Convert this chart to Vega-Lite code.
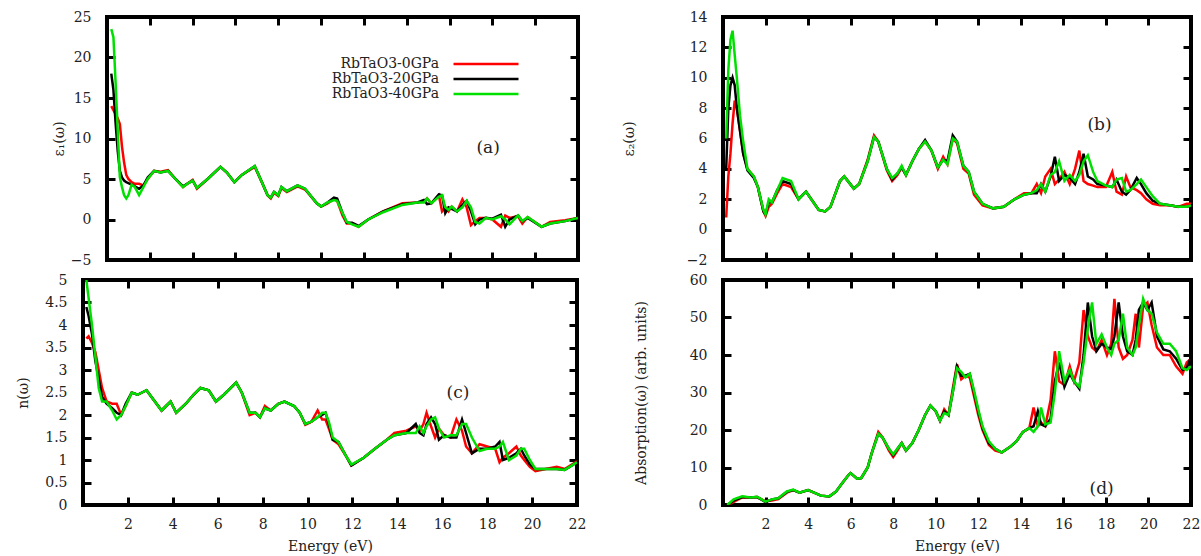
{
  "$schema": "https://vega.github.io/schema/vega-lite/v6.json",
  "background": "white",
  "autosize": {"type": "pad"},
  "padding": {"left": 14, "top": 8, "right": 5, "bottom": 5},
  "config": {
    "view": {"stroke": "#000000", "strokeWidth": 4},
    "axis": {"labelFont": "DejaVu Serif", "labelFontSize": 14, "labelColor": "#222222", "titleFont": "DejaVu Serif", "titleFontSize": 14, "titleFontWeight": "normal", "titleColor": "#222222", "grid": false, "domain": false, "tickColor": "#000000", "tickWidth": 3, "labelFlush": false, "labelOverlap": false},
    "legend": {"labelFont": "DejaVu Serif", "labelFontSize": 14, "labelColor": "#222222"},
    "text": {"font": "DejaVu Serif", "fontSize": 17, "color": "#222222"}
  },
  "datasets": {
    "a": [
      {"E":0.2,"p0":14.0,"p20":18.0,"p40":23.5},
      {"E":0.3,"p0":13.5,"p20":16.0,"p40":22.5},
      {"E":0.4,"p0":13.0,"p20":12.0,"p40":17.0},
      {"E":0.5,"p0":12.5,"p20":8.5,"p40":11.0},
      {"E":0.6,"p0":11.8,"p20":6.0,"p40":5.2},
      {"E":0.7,"p0":9.0,"p20":5.2,"p40":4.0},
      {"E":0.8,"p0":7.0,"p20":4.8,"p40":3.0},
      {"E":0.9,"p0":5.5,"p20":4.6,"p40":2.6},
      {"E":1.0,"p0":5.0,"p20":4.5,"p40":3.0},
      {"E":1.15,"p0":4.6,"p20":4.3,"p40":4.3},
      {"E":1.3,"p0":4.4,"p20":4.1,"p40":4.0},
      {"E":1.5,"p0":4.4,"p20":3.8,"p40":3.0},
      {"E":1.7,"p0":4.2,"p20":4.2,"p40":4.0},
      {"E":1.9,"p0":5.0,"p20":5.2,"p40":5.0},
      {"E":2.2,"p0":6.0,"p20":6.0,"p40":6.0},
      {"E":2.5,"p0":5.9,"p20":5.8,"p40":5.8},
      {"E":2.85,"p0":6.1,"p20":6.0,"p40":6.0},
      {"E":3.2,"p0":5.0,"p20":5.0,"p40":5.0},
      {"E":3.55,"p0":4.0,"p20":4.1,"p40":4.0},
      {"E":3.8,"p0":4.5,"p20":4.5,"p40":4.5},
      {"E":4.0,"p0":4.9,"p20":4.8,"p40":4.8},
      {"E":4.2,"p0":3.8,"p20":3.9,"p40":3.9},
      {"E":4.7,"p0":5.0,"p20":5.0,"p40":5.0},
      {"E":5.3,"p0":6.5,"p20":6.5,"p40":6.5},
      {"E":5.6,"p0":5.8,"p20":5.8,"p40":5.8},
      {"E":5.95,"p0":4.6,"p20":4.6,"p40":4.6},
      {"E":6.3,"p0":5.5,"p20":5.5,"p40":5.5},
      {"E":6.9,"p0":6.5,"p20":6.6,"p40":6.6},
      {"E":7.2,"p0":4.8,"p20":4.8,"p40":4.8},
      {"E":7.5,"p0":3.0,"p20":3.0,"p40":3.0},
      {"E":7.65,"p0":2.6,"p20":2.7,"p40":2.7},
      {"E":7.8,"p0":3.3,"p20":3.4,"p40":3.4},
      {"E":8.0,"p0":2.9,"p20":3.0,"p40":3.0},
      {"E":8.15,"p0":3.9,"p20":4.0,"p40":4.0},
      {"E":8.4,"p0":3.4,"p20":3.5,"p40":3.5},
      {"E":8.9,"p0":4.1,"p20":4.2,"p40":4.2},
      {"E":9.25,"p0":3.7,"p20":3.8,"p40":3.8},
      {"E":9.8,"p0":2.0,"p20":2.0,"p40":2.0},
      {"E":10.0,"p0":1.6,"p20":1.6,"p40":1.6},
      {"E":10.3,"p0":2.0,"p20":2.1,"p40":2.1},
      {"E":10.6,"p0":2.5,"p20":2.7,"p40":2.4},
      {"E":10.75,"p0":2.3,"p20":2.6,"p40":2.3},
      {"E":11.0,"p0":0.5,"p20":0.8,"p40":0.8},
      {"E":11.2,"p0":-0.5,"p20":-0.4,"p40":-0.3},
      {"E":11.45,"p0":-0.5,"p20":-0.4,"p40":-0.6},
      {"E":11.75,"p0":-0.9,"p20":-0.8,"p40":-0.9},
      {"E":12.2,"p0":0.0,"p20":0.0,"p40":0.0},
      {"E":12.9,"p0":1.0,"p20":1.0,"p40":0.9},
      {"E":13.8,"p0":2.0,"p20":1.9,"p40":1.8},
      {"E":14.5,"p0":2.1,"p20":2.1,"p40":2.1},
      {"E":14.8,"p0":2.2,"p20":2.4,"p40":2.1},
      {"E":14.95,"p0":2.6,"p20":1.9,"p40":2.6},
      {"E":15.15,"p0":2.0,"p20":2.0,"p40":2.0},
      {"E":15.5,"p0":3.0,"p20":3.1,"p40":2.8},
      {"E":15.65,"p0":1.0,"p20":3.0,"p40":3.0},
      {"E":15.8,"p0":1.5,"p20":0.8,"p40":1.5},
      {"E":15.95,"p0":1.0,"p20":1.5,"p40":1.2},
      {"E":16.1,"p0":1.6,"p20":1.3,"p40":1.6},
      {"E":16.35,"p0":1.0,"p20":1.0,"p40":1.0},
      {"E":16.6,"p0":2.5,"p20":1.8,"p40":1.5},
      {"E":16.8,"p0":1.5,"p20":2.3,"p40":2.3},
      {"E":17.0,"p0":-0.7,"p20":1.0,"p40":1.5},
      {"E":17.2,"p0":-0.2,"p20":-0.6,"p40":-0.3},
      {"E":17.4,"p0":0.2,"p20":0.0,"p40":-0.5},
      {"E":17.7,"p0":0.2,"p20":0.2,"p40":0.2},
      {"E":18.0,"p0":0.0,"p20":0.1,"p40":0.0},
      {"E":18.4,"p0":-0.9,"p20":0.6,"p40":0.4},
      {"E":18.6,"p0":0.5,"p20":-0.9,"p40":0.0},
      {"E":18.8,"p0":0.2,"p20":0.0,"p40":-0.6},
      {"E":19.2,"p0":0.4,"p20":0.5,"p40":0.5},
      {"E":19.4,"p0":-0.5,"p20":-0.2,"p40":-0.2},
      {"E":19.65,"p0":0.3,"p20":0.2,"p40":0.3},
      {"E":20.3,"p0":-0.9,"p20":-0.9,"p40":-0.9},
      {"E":20.7,"p0":-0.3,"p20":-0.5,"p40":-0.5},
      {"E":21.4,"p0":-0.1,"p20":-0.2,"p40":-0.2},
      {"E":22.0,"p0":0.2,"p20":0.2,"p40":0.2}
    ],
    "b": [
      {"E":0.15,"p0":0.8,"p20":4.0,"p40":6.0},
      {"E":0.25,"p0":3.5,"p20":8.0,"p40":10.5},
      {"E":0.35,"p0":5.0,"p20":9.5,"p40":12.5},
      {"E":0.45,"p0":7.0,"p20":10.0,"p40":13.1},
      {"E":0.55,"p0":8.5,"p20":9.5,"p40":11.5},
      {"E":0.65,"p0":8.0,"p20":8.0,"p40":10.0},
      {"E":0.8,"p0":6.5,"p20":6.5,"p40":7.5},
      {"E":0.95,"p0":5.0,"p20":5.0,"p40":5.8},
      {"E":1.15,"p0":4.0,"p20":3.9,"p40":4.0},
      {"E":1.45,"p0":3.5,"p20":3.4,"p40":3.5},
      {"E":1.64,"p0":2.8,"p20":2.8,"p40":2.8},
      {"E":1.9,"p0":1.2,"p20":1.2,"p40":1.3},
      {"E":2.0,"p0":0.9,"p20":1.0,"p40":1.0},
      {"E":2.15,"p0":1.5,"p20":1.8,"p40":2.0},
      {"E":2.3,"p0":1.7,"p20":1.8,"p40":1.8},
      {"E":2.55,"p0":2.4,"p20":2.6,"p40":2.6},
      {"E":2.8,"p0":3.0,"p20":3.2,"p40":3.4},
      {"E":3.2,"p0":2.8,"p20":3.0,"p40":3.2},
      {"E":3.55,"p0":2.0,"p20":2.0,"p40":2.0},
      {"E":3.9,"p0":2.5,"p20":2.5,"p40":2.5},
      {"E":4.2,"p0":1.9,"p20":1.9,"p40":1.9},
      {"E":4.5,"p0":1.3,"p20":1.3,"p40":1.3},
      {"E":4.8,"p0":1.2,"p20":1.2,"p40":1.2},
      {"E":5.05,"p0":1.5,"p20":1.5,"p40":1.5},
      {"E":5.5,"p0":3.2,"p20":3.2,"p40":3.2},
      {"E":5.7,"p0":3.5,"p20":3.5,"p40":3.5},
      {"E":6.15,"p0":2.7,"p20":2.7,"p40":2.7},
      {"E":6.4,"p0":3.0,"p20":3.0,"p40":3.0},
      {"E":6.8,"p0":4.6,"p20":4.5,"p40":4.5},
      {"E":7.1,"p0":6.2,"p20":6.1,"p40":6.1},
      {"E":7.3,"p0":5.8,"p20":5.8,"p40":5.8},
      {"E":7.7,"p0":3.9,"p20":4.0,"p40":4.0},
      {"E":7.95,"p0":3.2,"p20":3.3,"p40":3.4},
      {"E":8.2,"p0":3.6,"p20":3.7,"p40":3.7},
      {"E":8.4,"p0":4.1,"p20":4.1,"p40":4.2},
      {"E":8.6,"p0":3.6,"p20":3.6,"p40":3.6},
      {"E":8.9,"p0":4.5,"p20":4.5,"p40":4.5},
      {"E":9.2,"p0":5.3,"p20":5.3,"p40":5.3},
      {"E":9.5,"p0":5.8,"p20":5.9,"p40":5.8},
      {"E":9.8,"p0":5.2,"p20":5.2,"p40":5.2},
      {"E":10.1,"p0":4.0,"p20":4.1,"p40":4.1},
      {"E":10.35,"p0":4.8,"p20":4.6,"p40":4.6},
      {"E":10.55,"p0":4.3,"p20":4.5,"p40":4.3},
      {"E":10.8,"p0":6.0,"p20":6.2,"p40":6.0},
      {"E":11.0,"p0":5.7,"p20":5.8,"p40":5.8},
      {"E":11.3,"p0":4.0,"p20":4.2,"p40":4.2},
      {"E":11.55,"p0":3.7,"p20":3.8,"p40":3.8},
      {"E":11.8,"p0":2.3,"p20":2.5,"p40":2.5},
      {"E":12.2,"p0":1.6,"p20":1.7,"p40":1.7},
      {"E":12.7,"p0":1.4,"p20":1.4,"p40":1.4},
      {"E":13.2,"p0":1.5,"p20":1.5,"p40":1.5},
      {"E":13.7,"p0":2.0,"p20":2.0,"p40":2.0},
      {"E":14.15,"p0":2.4,"p20":2.3,"p40":2.3},
      {"E":14.5,"p0":2.4,"p20":2.4,"p40":2.4},
      {"E":14.75,"p0":3.0,"p20":2.4,"p40":2.6},
      {"E":14.95,"p0":2.4,"p20":3.0,"p40":3.0},
      {"E":15.15,"p0":3.5,"p20":2.5,"p40":2.5},
      {"E":15.4,"p0":4.0,"p20":3.5,"p40":3.6},
      {"E":15.6,"p0":3.0,"p20":4.8,"p40":3.8},
      {"E":15.8,"p0":3.3,"p20":3.2,"p40":4.5},
      {"E":16.05,"p0":3.8,"p20":3.6,"p40":3.2},
      {"E":16.3,"p0":3.0,"p20":3.4,"p40":3.6},
      {"E":16.55,"p0":4.0,"p20":3.0,"p40":3.2},
      {"E":16.75,"p0":5.2,"p20":3.8,"p40":3.6},
      {"E":16.95,"p0":3.2,"p20":5.0,"p40":4.5},
      {"E":17.15,"p0":3.0,"p20":3.5,"p40":4.9},
      {"E":17.4,"p0":2.9,"p20":3.3,"p40":3.8},
      {"E":17.6,"p0":2.8,"p20":3.0,"p40":3.2},
      {"E":18.0,"p0":2.8,"p20":2.9,"p40":2.9},
      {"E":18.3,"p0":3.8,"p20":2.8,"p40":2.8},
      {"E":18.5,"p0":2.5,"p20":3.3,"p40":3.3},
      {"E":18.75,"p0":2.3,"p20":2.5,"p40":3.4},
      {"E":18.95,"p0":3.5,"p20":2.3,"p40":2.5},
      {"E":19.15,"p0":2.8,"p20":2.6,"p40":2.6},
      {"E":19.45,"p0":2.6,"p20":3.4,"p40":3.0},
      {"E":19.65,"p0":2.4,"p20":3.0,"p40":3.3},
      {"E":19.9,"p0":2.0,"p20":2.4,"p40":2.8},
      {"E":20.2,"p0":1.7,"p20":1.9,"p40":2.2},
      {"E":20.55,"p0":1.6,"p20":1.7,"p40":1.7},
      {"E":21.0,"p0":1.6,"p20":1.6,"p40":1.6},
      {"E":21.4,"p0":1.5,"p20":1.5,"p40":1.5},
      {"E":21.8,"p0":1.7,"p20":1.5,"p40":1.5},
      {"E":22.0,"p0":1.7,"p20":1.6,"p40":1.6}
    ],
    "c": [
      {"E":0.15,"p0":3.7,"p20":4.4,"p40":5.0},
      {"E":0.25,"p0":3.75,"p20":4.2,"p40":4.6},
      {"E":0.4,"p0":3.6,"p20":3.8,"p40":4.0},
      {"E":0.55,"p0":3.4,"p20":3.2,"p40":3.3},
      {"E":0.7,"p0":3.0,"p20":2.8,"p40":2.6},
      {"E":0.85,"p0":2.6,"p20":2.4,"p40":2.3},
      {"E":1.05,"p0":2.3,"p20":2.25,"p40":2.3},
      {"E":1.3,"p0":2.25,"p20":2.15,"p40":2.1},
      {"E":1.5,"p0":2.25,"p20":2.05,"p40":1.9},
      {"E":1.7,"p0":2.0,"p20":2.0,"p40":2.0},
      {"E":1.9,"p0":2.2,"p20":2.25,"p40":2.2},
      {"E":2.17,"p0":2.5,"p20":2.5,"p40":2.5},
      {"E":2.43,"p0":2.45,"p20":2.45,"p40":2.45},
      {"E":2.83,"p0":2.55,"p20":2.55,"p40":2.55},
      {"E":3.2,"p0":2.3,"p20":2.3,"p40":2.3},
      {"E":3.5,"p0":2.1,"p20":2.1,"p40":2.1},
      {"E":3.7,"p0":2.2,"p20":2.2,"p40":2.2},
      {"E":3.9,"p0":2.3,"p20":2.3,"p40":2.3},
      {"E":4.15,"p0":2.05,"p20":2.05,"p40":2.05},
      {"E":4.58,"p0":2.25,"p20":2.25,"p40":2.25},
      {"E":4.92,"p0":2.45,"p20":2.45,"p40":2.45},
      {"E":5.23,"p0":2.6,"p20":2.6,"p40":2.6},
      {"E":5.6,"p0":2.55,"p20":2.55,"p40":2.55},
      {"E":5.92,"p0":2.3,"p20":2.3,"p40":2.3},
      {"E":6.27,"p0":2.45,"p20":2.45,"p40":2.45},
      {"E":6.82,"p0":2.72,"p20":2.72,"p40":2.72},
      {"E":7.07,"p0":2.5,"p20":2.5,"p40":2.5},
      {"E":7.42,"p0":2.0,"p20":2.05,"p40":2.05},
      {"E":7.68,"p0":2.05,"p20":2.05,"p40":2.05},
      {"E":7.88,"p0":1.95,"p20":1.95,"p40":1.95},
      {"E":8.1,"p0":2.2,"p20":2.15,"p40":2.15},
      {"E":8.36,"p0":2.1,"p20":2.1,"p40":2.1},
      {"E":8.7,"p0":2.25,"p20":2.25,"p40":2.25},
      {"E":8.97,"p0":2.3,"p20":2.3,"p40":2.3},
      {"E":9.4,"p0":2.2,"p20":2.2,"p40":2.2},
      {"E":9.65,"p0":2.05,"p20":2.05,"p40":2.05},
      {"E":9.9,"p0":1.78,"p20":1.8,"p40":1.8},
      {"E":10.17,"p0":1.85,"p20":1.85,"p40":1.85},
      {"E":10.45,"p0":2.1,"p20":1.95,"p40":1.95},
      {"E":10.65,"p0":1.9,"p20":2.0,"p40":2.05},
      {"E":10.8,"p0":1.9,"p20":2.05,"p40":2.05},
      {"E":10.95,"p0":1.7,"p20":1.8,"p40":1.85},
      {"E":11.12,"p0":1.45,"p20":1.45,"p40":1.5},
      {"E":11.38,"p0":1.35,"p20":1.4,"p40":1.4},
      {"E":11.7,"p0":1.1,"p20":1.1,"p40":1.1},
      {"E":11.95,"p0":0.88,"p20":0.88,"p40":0.9},
      {"E":12.5,"p0":1.05,"p20":1.05,"p40":1.05},
      {"E":13.0,"p0":1.25,"p20":1.25,"p40":1.25},
      {"E":13.53,"p0":1.45,"p20":1.45,"p40":1.45},
      {"E":13.87,"p0":1.6,"p20":1.55,"p40":1.55},
      {"E":14.4,"p0":1.65,"p20":1.6,"p40":1.6},
      {"E":14.82,"p0":1.75,"p20":1.8,"p40":1.6},
      {"E":14.99,"p0":1.65,"p20":1.6,"p40":1.75},
      {"E":15.16,"p0":1.8,"p20":1.55,"p40":1.6},
      {"E":15.3,"p0":2.05,"p20":1.8,"p40":1.75},
      {"E":15.5,"p0":1.75,"p20":1.95,"p40":1.9},
      {"E":15.68,"p0":1.5,"p20":1.8,"p40":1.95},
      {"E":15.85,"p0":1.7,"p20":1.45,"p40":1.7},
      {"E":16.08,"p0":1.55,"p20":1.55,"p40":1.5},
      {"E":16.37,"p0":1.5,"p20":1.5,"p40":1.55},
      {"E":16.63,"p0":1.9,"p20":1.5,"p40":1.55},
      {"E":16.88,"p0":1.65,"p20":1.9,"p40":1.8},
      {"E":17.06,"p0":1.3,"p20":1.6,"p40":1.8},
      {"E":17.32,"p0":1.15,"p20":1.15,"p40":1.5},
      {"E":17.66,"p0":1.35,"p20":1.25,"p40":1.2},
      {"E":18.0,"p0":1.3,"p20":1.25,"p40":1.25},
      {"E":18.36,"p0":1.25,"p20":1.3,"p40":1.25},
      {"E":18.55,"p0":0.95,"p20":1.4,"p40":1.3},
      {"E":18.7,"p0":1.05,"p20":1.0,"p40":1.4},
      {"E":18.97,"p0":1.15,"p20":1.05,"p40":1.0},
      {"E":19.3,"p0":1.3,"p20":1.15,"p40":1.1},
      {"E":19.5,"p0":1.1,"p20":1.25,"p40":1.25},
      {"E":19.65,"p0":1.0,"p20":1.1,"p40":1.25},
      {"E":19.9,"p0":0.85,"p20":0.9,"p40":1.0},
      {"E":20.15,"p0":0.75,"p20":0.8,"p40":0.8},
      {"E":20.6,"p0":0.8,"p20":0.8,"p40":0.8},
      {"E":21.1,"p0":0.85,"p20":0.8,"p40":0.8},
      {"E":21.45,"p0":0.8,"p20":0.78,"p40":0.78},
      {"E":22.0,"p0":0.97,"p20":0.95,"p40":0.95}
    ],
    "d": [
      {"E":0.2,"p0":0.0,"p20":0.0,"p40":0.0},
      {"E":0.5,"p0":0.8,"p20":1.2,"p40":1.5},
      {"E":0.9,"p0":2.0,"p20":2.1,"p40":2.3},
      {"E":1.3,"p0":2.0,"p20":2.0,"p40":2.0},
      {"E":1.6,"p0":2.1,"p20":2.1,"p40":2.2},
      {"E":2.0,"p0":1.0,"p20":0.8,"p40":0.9},
      {"E":2.3,"p0":1.2,"p20":1.5,"p40":1.5},
      {"E":2.6,"p0":1.6,"p20":1.8,"p40":1.8},
      {"E":3.0,"p0":3.3,"p20":3.5,"p40":3.6},
      {"E":3.3,"p0":4.0,"p20":4.0,"p40":4.1},
      {"E":3.6,"p0":3.3,"p20":3.3,"p40":3.3},
      {"E":4.0,"p0":4.0,"p20":4.0,"p40":4.0},
      {"E":4.2,"p0":3.5,"p20":3.5,"p40":3.5},
      {"E":4.6,"p0":2.5,"p20":2.5,"p40":2.5},
      {"E":5.0,"p0":2.3,"p20":2.3,"p40":2.3},
      {"E":5.3,"p0":3.5,"p20":3.5,"p40":3.5},
      {"E":5.6,"p0":5.8,"p20":5.8,"p40":5.8},
      {"E":5.9,"p0":8.0,"p20":8.0,"p40":8.0},
      {"E":6.0,"p0":8.5,"p20":8.5,"p40":8.5},
      {"E":6.3,"p0":7.0,"p20":7.0,"p40":7.0},
      {"E":6.5,"p0":7.2,"p20":7.2,"p40":7.2},
      {"E":6.8,"p0":10.0,"p20":10.0,"p40":10.0},
      {"E":7.0,"p0":14.0,"p20":14.0,"p40":14.0},
      {"E":7.3,"p0":19.5,"p20":19.0,"p40":19.0},
      {"E":7.5,"p0":18.0,"p20":18.0,"p40":18.0},
      {"E":7.8,"p0":14.5,"p20":15.0,"p40":15.0},
      {"E":8.0,"p0":12.8,"p20":13.3,"p40":13.5},
      {"E":8.2,"p0":14.5,"p20":15.0,"p40":15.0},
      {"E":8.4,"p0":16.5,"p20":16.5,"p40":16.5},
      {"E":8.6,"p0":14.5,"p20":14.5,"p40":14.5},
      {"E":8.9,"p0":16.5,"p20":16.5,"p40":16.5},
      {"E":9.2,"p0":20.0,"p20":20.0,"p40":20.0},
      {"E":9.5,"p0":24.0,"p20":24.0,"p40":24.0},
      {"E":9.75,"p0":26.5,"p20":26.5,"p40":26.5},
      {"E":10.0,"p0":25.0,"p20":25.0,"p40":25.0},
      {"E":10.2,"p0":22.5,"p20":22.5,"p40":22.5},
      {"E":10.4,"p0":25.5,"p20":25.0,"p40":24.5},
      {"E":10.6,"p0":24.0,"p20":24.0,"p40":24.0},
      {"E":10.8,"p0":31.0,"p20":30.0,"p40":30.0},
      {"E":11.0,"p0":37.5,"p20":37.0,"p40":36.5},
      {"E":11.2,"p0":33.5,"p20":34.5,"p40":35.5},
      {"E":11.4,"p0":34.5,"p20":34.5,"p40":34.0},
      {"E":11.6,"p0":34.0,"p20":35.0,"p40":35.0},
      {"E":11.8,"p0":29.0,"p20":30.0,"p40":30.5},
      {"E":12.0,"p0":24.0,"p20":25.0,"p40":25.5},
      {"E":12.2,"p0":20.0,"p20":20.5,"p40":21.0},
      {"E":12.5,"p0":16.0,"p20":16.5,"p40":17.0},
      {"E":12.8,"p0":14.5,"p20":15.0,"p40":15.0},
      {"E":13.1,"p0":14.0,"p20":14.0,"p40":14.0},
      {"E":13.5,"p0":15.5,"p20":15.5,"p40":15.5},
      {"E":13.8,"p0":17.0,"p20":17.0,"p40":17.0},
      {"E":14.1,"p0":19.5,"p20":19.5,"p40":19.5},
      {"E":14.4,"p0":20.5,"p20":20.5,"p40":20.5},
      {"E":14.6,"p0":26.0,"p20":21.0,"p40":19.5},
      {"E":14.8,"p0":21.0,"p20":25.0,"p40":21.0},
      {"E":14.95,"p0":22.0,"p20":21.5,"p40":26.0},
      {"E":15.15,"p0":21.0,"p20":21.0,"p40":21.5},
      {"E":15.4,"p0":28.0,"p20":23.0,"p40":22.0},
      {"E":15.6,"p0":41.0,"p20":33.0,"p40":30.0},
      {"E":15.8,"p0":33.0,"p20":38.0,"p40":41.0},
      {"E":16.05,"p0":32.0,"p20":31.5,"p40":33.0},
      {"E":16.3,"p0":37.0,"p20":35.0,"p40":36.0},
      {"E":16.5,"p0":33.0,"p20":33.0,"p40":33.0},
      {"E":16.75,"p0":38.0,"p20":31.0,"p40":31.5},
      {"E":16.95,"p0":52.0,"p20":40.0,"p40":38.0},
      {"E":17.15,"p0":45.0,"p20":54.0,"p40":47.0},
      {"E":17.35,"p0":42.0,"p20":45.0,"p40":54.0},
      {"E":17.55,"p0":41.0,"p20":41.0,"p40":43.0},
      {"E":17.8,"p0":44.0,"p20":43.0,"p40":45.5},
      {"E":18.05,"p0":40.0,"p20":42.0,"p40":42.0},
      {"E":18.25,"p0":43.0,"p20":41.5,"p40":40.0},
      {"E":18.4,"p0":55.0,"p20":45.0,"p40":43.0},
      {"E":18.6,"p0":42.0,"p20":54.0,"p40":44.0},
      {"E":18.8,"p0":39.0,"p20":45.0,"p40":51.0},
      {"E":19.0,"p0":40.0,"p20":41.0,"p40":42.0},
      {"E":19.25,"p0":44.0,"p20":40.0,"p40":40.0},
      {"E":19.4,"p0":51.0,"p20":44.0,"p40":42.0},
      {"E":19.55,"p0":42.0,"p20":52.0,"p40":48.0},
      {"E":19.75,"p0":53.0,"p20":54.0,"p40":55.0},
      {"E":19.95,"p0":54.0,"p20":52.0,"p40":52.0},
      {"E":20.15,"p0":48.0,"p20":54.0,"p40":51.0},
      {"E":20.4,"p0":42.0,"p20":45.0,"p40":46.0},
      {"E":20.7,"p0":40.0,"p20":41.5,"p40":43.0},
      {"E":21.0,"p0":40.0,"p20":41.0,"p40":43.0},
      {"E":21.3,"p0":37.0,"p20":39.0,"p40":41.0},
      {"E":21.6,"p0":35.0,"p20":36.0,"p40":36.5},
      {"E":21.8,"p0":38.0,"p20":36.5,"p40":36.0},
      {"E":22.0,"p0":39.0,"p20":39.5,"p40":37.0}
    ],
    "labels": [
      {"panel":"a","E":17.8,"v":8.8,"t":"(a)"},
      {"panel":"b","E":17.7,"v":6.9,"t":"(b)"},
      {"panel":"c","E":16.7,"v":2.48,"t":"(c)"},
      {"panel":"d","E":17.8,"v":4.4,"t":"(d)"}
    ]
  },
  "bounds": "flush",
  "spacing": 640,
  "hconcat": [
    {
      "bounds": "flush",
      "spacing": 263,
      "vconcat": [
        {
          "bounds": "flush",
          "spacing": 0,
          "hconcat": [
            {"width": 24, "height": 243, "data": {"values": []}, "mark": "point", "view": {"stroke": null}},
            {
              "width": 471, "height": 243,
              "layer": [
                {
                  "data": {"name": "a"},
                  "transform": [{"fold": ["p0", "p20", "p40"], "as": ["s", "v"]}],
                  "mark": {"type": "line", "strokeWidth": 2.5, "clip": true},
                  "encoding": {
                    "x": {"field": "E", "type": "quantitative", "scale": {"domain": [0, 22], "nice": false, "zero": false}, "axis": null},
                    "y": {"field": "v", "type": "quantitative", "scale": {"domain": [-5, 25], "nice": false, "zero": false}, "axis": {"orient": "left", "values": [-5, 0, 5, 10, 15, 20, 25], "ticks": false, "labelPadding": 16, "title": "ε₁(ω)", "titlePadding": 4}},
                    "color": {"field": "s", "type": "nominal", "scale": {"domain": ["p0", "p20", "p40"], "range": ["#ff0000", "#000000", "#00e000"]}, "legend": {"title": null, "orient": "none", "legendX": 395, "legendY": 39, "padding": 0, "symbolType": "M-5,0H5", "symbolSize": 169, "symbolStrokeWidth": 2.5, "rowPadding": 0, "labelAlign": "right", "labelOffset": -55, "labelExpr": "'RbTaO3-' + slice(datum.label, 1) + 'GPa'"}}
                  }
                },
                {
                  "data": {"name": "labels"},
                  "transform": [{"filter": "datum.panel == 'a'"}],
                  "mark": {"type": "text"},
                  "encoding": {
                    "x": {"field": "E", "type": "quantitative", "scale": {"domain": [0, 22], "nice": false, "zero": false}, "axis": {"orient": "bottom", "values": [2, 4, 6, 8, 10, 12, 14, 16, 18, 20], "labels": false, "tickSize": 8, "offset": -8, "title": null}},
                    "y": {"field": "v", "type": "quantitative", "scale": {"domain": [-5, 25], "nice": false, "zero": false}, "axis": {"orient": "left", "values": [0, 5, 10, 15, 20], "labels": false, "tickSize": 8, "offset": -8, "title": null}},
                    "text": {"field": "t"}
                  }
                },
                {
                  "data": {"values": []},
                  "mark": "point",
                  "encoding": {
                    "x": {"field": "E", "type": "quantitative", "scale": {"domain": [0, 22], "nice": false, "zero": false}, "axis": {"orient": "top", "values": [2, 4, 6, 8, 10, 12, 14, 16, 18, 20], "labels": false, "tickSize": 8, "offset": -8, "title": null}},
                    "y": {"field": "v", "type": "quantitative", "scale": {"domain": [-5, 25], "nice": false, "zero": false}, "axis": {"orient": "right", "values": [0, 5, 10, 15, 20], "labels": false, "tickSize": 8, "offset": -8, "title": null}}
                  }
                }
              ],
              "resolve": {"axis": {"x": "independent", "y": "independent"}}
            }
          ]
        },
        {
          "width": 494, "height": 225,
          "layer": [
            {
              "data": {"name": "c"},
              "transform": [{"fold": ["p0", "p20", "p40"], "as": ["s", "v"]}],
              "mark": {"type": "line", "strokeWidth": 2.5, "clip": true},
              "encoding": {
                "x": {"field": "E", "type": "quantitative", "scale": {"domain": [0, 22], "nice": false, "zero": false}, "axis": {"orient": "bottom", "values": [2, 4, 6, 8, 10, 12, 14, 16, 18, 20, 22], "ticks": false, "labelPadding": 12, "title": "Energy (eV)", "titlePadding": 8}},
                "y": {"field": "v", "type": "quantitative", "scale": {"domain": [0, 5], "nice": false, "zero": false}, "axis": {"orient": "left", "values": [0, 0.5, 1, 1.5, 2, 2.5, 3, 3.5, 4, 4.5, 5], "format": "~g", "ticks": false, "labelPadding": 16, "title": "n(ω)", "titlePadding": 14}},
                "color": {"field": "s", "type": "nominal", "scale": {"domain": ["p0", "p20", "p40"], "range": ["#ff0000", "#000000", "#00e000"]}, "legend": {"title": null, "orient": "none", "legendX": 395, "legendY": 39, "padding": 0, "symbolType": "M-5,0H5", "symbolSize": 169, "symbolStrokeWidth": 2.5, "rowPadding": 0, "labelAlign": "right", "labelOffset": -55, "labelExpr": "'RbTaO3-' + slice(datum.label, 1) + 'GPa'"}}
              }
            },
            {
              "data": {"name": "labels"},
              "transform": [{"filter": "datum.panel == 'c'"}],
              "mark": {"type": "text"},
              "encoding": {
                "x": {"field": "E", "type": "quantitative", "scale": {"domain": [0, 22], "nice": false, "zero": false}, "axis": {"orient": "bottom", "values": [2, 4, 6, 8, 10, 12, 14, 16, 18, 20], "labels": false, "tickSize": 8, "offset": -8, "title": null}},
                "y": {"field": "v", "type": "quantitative", "scale": {"domain": [0, 5], "nice": false, "zero": false}, "axis": {"orient": "left", "values": [0.5, 1, 1.5, 2, 2.5, 3, 3.5, 4, 4.5], "labels": false, "tickSize": 8, "offset": -8, "title": null}},
                "text": {"field": "t"}
              }
            },
            {
              "data": {"values": []},
              "mark": "point",
              "encoding": {
                "x": {"field": "E", "type": "quantitative", "scale": {"domain": [0, 22], "nice": false, "zero": false}, "axis": {"orient": "top", "values": [2, 4, 6, 8, 10, 12, 14, 16, 18, 20], "labels": false, "tickSize": 8, "offset": -8, "title": null}},
                "y": {"field": "v", "type": "quantitative", "scale": {"domain": [0, 5], "nice": false, "zero": false}, "axis": {"orient": "right", "values": [0.5, 1, 1.5, 2, 2.5, 3, 3.5, 4, 4.5], "labels": false, "tickSize": 8, "offset": -8, "title": null}}
              }
            }
          ],
          "resolve": {"axis": {"x": "independent", "y": "independent"}}
        }
      ]
    },
    {
      "bounds": "flush",
      "spacing": 20,
      "vconcat": [
        {
          "width": 468, "height": 243,
          "layer": [
            {
              "data": {"name": "b"},
              "transform": [{"fold": ["p0", "p20", "p40"], "as": ["s", "v"]}],
              "mark": {"type": "line", "strokeWidth": 2.5, "clip": true},
              "encoding": {
                "x": {"field": "E", "type": "quantitative", "scale": {"domain": [0, 22], "nice": false, "zero": false}, "axis": null},
                "y": {"field": "v", "type": "quantitative", "scale": {"domain": [-2, 14], "nice": false, "zero": false}, "axis": {"orient": "left", "values": [-2, 0, 2, 4, 6, 8, 10, 12, 14], "ticks": false, "labelPadding": 16, "title": "ε₂(ω)", "titlePadding": 50}},
                "color": {"field": "s", "type": "nominal", "scale": {"domain": ["p0", "p20", "p40"], "range": ["#ff0000", "#000000", "#00e000"]}, "legend": {"title": null, "orient": "none", "legendX": 395, "legendY": 39, "padding": 0, "symbolType": "M-5,0H5", "symbolSize": 169, "symbolStrokeWidth": 2.5, "rowPadding": 0, "labelAlign": "right", "labelOffset": -55, "labelExpr": "'RbTaO3-' + slice(datum.label, 1) + 'GPa'"}}
              }
            },
            {
              "data": {"name": "labels"},
              "transform": [{"filter": "datum.panel == 'b'"}],
              "mark": {"type": "text"},
              "encoding": {
                "x": {"field": "E", "type": "quantitative", "scale": {"domain": [0, 22], "nice": false, "zero": false}, "axis": {"orient": "bottom", "values": [2, 4, 6, 8, 10, 12, 14, 16, 18, 20], "labels": false, "tickSize": 8, "offset": -8, "title": null}},
                "y": {"field": "v", "type": "quantitative", "scale": {"domain": [-2, 14], "nice": false, "zero": false}, "axis": {"orient": "left", "values": [0, 2, 4, 6, 8, 10, 12], "labels": false, "tickSize": 8, "offset": -8, "title": null}},
                "text": {"field": "t"}
              }
            },
            {
              "data": {"values": []},
              "mark": "point",
              "encoding": {
                "x": {"field": "E", "type": "quantitative", "scale": {"domain": [0, 22], "nice": false, "zero": false}, "axis": {"orient": "top", "values": [2, 4, 6, 8, 10, 12, 14, 16, 18, 20], "labels": false, "tickSize": 8, "offset": -8, "title": null}},
                "y": {"field": "v", "type": "quantitative", "scale": {"domain": [-2, 14], "nice": false, "zero": false}, "axis": {"orient": "right", "values": [0, 2, 4, 6, 8, 10, 12], "labels": false, "tickSize": 8, "offset": -8, "title": null}}
              }
            }
          ],
          "resolve": {"axis": {"x": "independent", "y": "independent"}}
        },
        {
          "width": 468, "height": 225,
          "layer": [
            {
              "data": {"name": "d"},
              "transform": [{"fold": ["p0", "p20", "p40"], "as": ["s", "v"]}],
              "mark": {"type": "line", "strokeWidth": 2.5, "clip": true},
              "encoding": {
                "x": {"field": "E", "type": "quantitative", "scale": {"domain": [0, 22], "nice": false, "zero": false}, "axis": {"orient": "bottom", "values": [2, 4, 6, 8, 10, 12, 14, 16, 18, 20, 22], "ticks": false, "labelPadding": 12, "title": "Energy (eV)", "titlePadding": 8}},
                "y": {"field": "v", "type": "quantitative", "scale": {"domain": [0, 60], "nice": false, "zero": false}, "axis": {"orient": "left", "values": [0, 10, 20, 30, 40, 50, 60], "ticks": false, "labelPadding": 16, "title": "Absorption(ω) (arb. units)", "titlePadding": 41}},
                "color": {"field": "s", "type": "nominal", "scale": {"domain": ["p0", "p20", "p40"], "range": ["#ff0000", "#000000", "#00e000"]}, "legend": {"title": null, "orient": "none", "legendX": 395, "legendY": 39, "padding": 0, "symbolType": "M-5,0H5", "symbolSize": 169, "symbolStrokeWidth": 2.5, "rowPadding": 0, "labelAlign": "right", "labelOffset": -55, "labelExpr": "'RbTaO3-' + slice(datum.label, 1) + 'GPa'"}}
              }
            },
            {
              "data": {"name": "labels"},
              "transform": [{"filter": "datum.panel == 'd'"}],
              "mark": {"type": "text"},
              "encoding": {
                "x": {"field": "E", "type": "quantitative", "scale": {"domain": [0, 22], "nice": false, "zero": false}, "axis": {"orient": "bottom", "values": [2, 4, 6, 8, 10, 12, 14, 16, 18, 20], "labels": false, "tickSize": 8, "offset": -8, "title": null}},
                "y": {"field": "v", "type": "quantitative", "scale": {"domain": [0, 60], "nice": false, "zero": false}, "axis": {"orient": "left", "values": [10, 20, 30, 40, 50], "labels": false, "tickSize": 8, "offset": -8, "title": null}},
                "text": {"field": "t"}
              }
            },
            {
              "data": {"values": []},
              "mark": "point",
              "encoding": {
                "x": {"field": "E", "type": "quantitative", "scale": {"domain": [0, 22], "nice": false, "zero": false}, "axis": {"orient": "top", "values": [2, 4, 6, 8, 10, 12, 14, 16, 18, 20], "labels": false, "tickSize": 8, "offset": -8, "title": null}},
                "y": {"field": "v", "type": "quantitative", "scale": {"domain": [0, 60], "nice": false, "zero": false}, "axis": {"orient": "right", "values": [10, 20, 30, 40, 50], "labels": false, "tickSize": 8, "offset": -8, "title": null}}
              }
            }
          ],
          "resolve": {"axis": {"x": "independent", "y": "independent"}}
        }
      ]
    }
  ]
}
